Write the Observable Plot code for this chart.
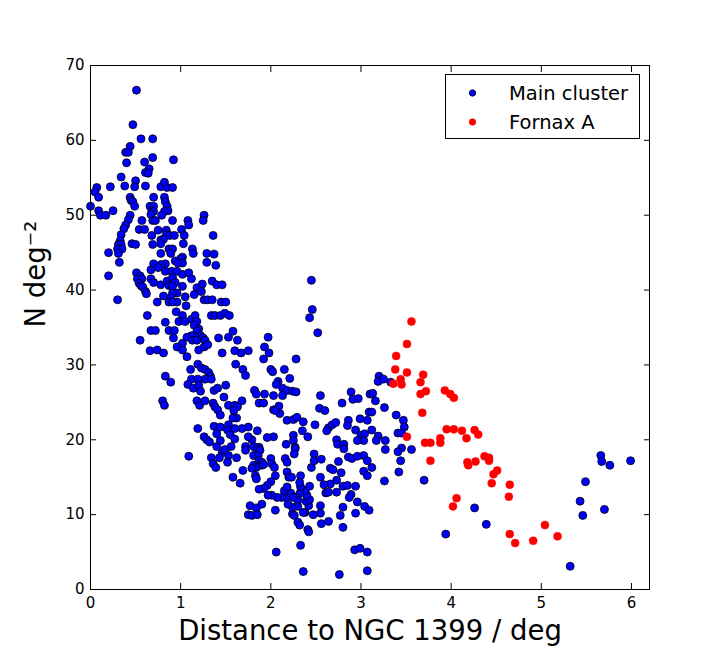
<!DOCTYPE html>
<html><head><meta charset="utf-8">
<script src="https://cdn.jsdelivr.net/npm/d3@7"></script>
<script src="https://cdn.jsdelivr.net/npm/@observablehq/plot@0.6"></script>
<style>body{margin:0;background:#fff} #chart{width:721px;height:656px}</style>
</head><body><div id="chart"></div>
<script>
const mainX = [0.51,0.47,0.56,0.69,0.44,0.39,0.42,0.40,0.60,0.69,0.92,0.65,0.61,0.64,0.34,0.50,0.07,0.05,0.09,0.22,0.38,0.49,0.61,0.78,0.85,0.91,0.82,0.70,0.44,0.45,0.47,0.49,0.82,0.83,0.85,0.86,0.82,0.66,0.70,0.68,0.70,0.00,0.09,0.11,0.17,0.25,0.44,0.42,0.39,0.37,0.34,0.33,0.31,0.34,0.30,0.35,0.31,0.20,0.57,0.67,0.69,0.72,0.79,0.91,0.54,0.60,0.75,0.84,0.84,0.88,0.93,1.01,1.08,1.09,1.04,1.26,1.25,1.36,0.68,0.78,0.81,0.69,0.78,0.46,0.50,1.03,1.13,1.14,1.29,1.37,0.78,0.87,0.91,0.89,1.02,1.00,
0.32,0.94,1.02,0.97,0.83,0.78,1.29,1.39,0.20,0.51,0.55,0.52,0.57,0.54,0.56,0.58,0.61,0.62,0.67,0.70,0.75,0.67,0.70,0.78,0.83,0.90,0.96,1.02,1.09,1.12,0.85,0.91,0.94,0.87,0.91,1.02,0.96,0.91,0.89,0.81,0.87,0.96,0.91,1.18,1.24,1.23,1.15,1.35,1.40,1.46,1.05,1.06,0.74,0.30,1.26,1.30,1.35,1.45,1.34,1.38,1.44,1.49,0.95,1.02,0.98,1.05,1.12,1.16,1.18,1.15,1.20,1.18,1.22,1.25,1.16,1.12,1.07,1.13,1.18,1.27,1.02,0.96,1.02,1.20,1.26,1.30,0.92,0.87,0.93,0.83,0.67,0.72,0.63,0.55,0.66,0.74,0.81,1.07,1.42,1.46,1.11,1.19,1.23,1.27,1.31,1.33,1.27,1.34,1.12,1.19,1.08,1.14,1.20,1.22,1.37,1.41,1.48,0.83,0.89,0.80,0.82,1.18,1.21,1.27,1.36,1.38,1.41,1.44,1.37,1.44,1.19,1.50,
1.50,1.54,1.58,1.53,1.63,1.97,1.93,1.98,1.75,1.67,1.60,2.28,
1.26,1.29,1.32,1.40,1.44,1.40,1.46,1.43,1.49,1.09,1.34,1.36,1.39,
2.46,2.43,2.52,2.45,1.92,1.61,1.69,1.72,2.00,2.02,2.15,2.21,2.08,2.06,2.13,2.18,2.24,2.28,1.82,1.84,1.93,2.03,2.13,1.53,1.60,1.63,1.68,1.59,1.62,1.58,1.87,1.92,2.03,2.09,2.10,2.05,2.18,2.25,2.29,2.36,2.49,2.55,2.54,2.60,2.79,2.89,2.91,2.97,2.86,2.85,2.99,3.09,3.07,3.10,2.64,2.68,2.72,2.62,2.94,3.00,3.04,3.03,2.96,2.73,2.74,2.81,2.41,2.35,2.25,2.25,2.17,2.27,2.03,1.96,1.85,1.75,1.79,1.75,1.68,1.60,1.53,1.52,1.55,1.60,1.72,1.81,1.87,1.56,
1.53,1.62,1.52,1.72,1.85,1.88,1.81,1.86,1.87,1.90,1.81,1.84,1.90,1.92,1.79,2.00,2.01,2.04,2.05,2.00,1.96,1.92,1.87,1.83,1.84,1.69,1.58,1.66,2.18,2.20,2.23,2.33,2.27,2.26,2.16,2.18,2.45,2.48,2.48,2.56,2.66,2.69,2.78,2.75,2.81,2.86,2.90,2.96,3.03,3.07,3.03,3.07,2.55,2.73,2.66,2.59,2.61,2.64,2.73,2.80,2.85,2.94,2.89,2.87,2.96,3.04,3.09,2.94,2.80,2.77,2.80,2.55,2.55,2.56,2.64,2.47,2.38,2.42,2.39,2.43,2.40,2.38,2.43,2.33,2.32,2.32,2.28,2.30,2.30,2.24,2.19,2.24,2.26,2.30,2.32,2.36,2.41,2.42,2.17,2.22,2.25,2.15,2.18,2.12,2.07,2.01,1.97,1.90,1.84,1.77,1.75,1.79,1.85,2.05,2.33,2.06,2.36,2.76,2.93,2.99,3.07,3.07,
3.20,3.19,3.25,3.33,3.13,3.16,3.26,3.12,3.39,3.47,3.48,3.41,3.45,3.12,3.19,3.27,3.17,3.27,3.45,3.56,
3.41,3.12,3.44,3.42,3.26,3.70,4.26,4.39,3.94,
5.66,5.67,5.76,5.99,5.49,5.43,5.46,5.70,5.32];
const mainY = [66.7,62.1,60.2,60.2,59.2,58.4,58.4,57.0,57.1,57.7,57.4,56.2,55.7,55.6,55.1,54.6,53.7,53.1,52.4,53.8,53.9,53.8,53.9,53.8,53.7,53.7,54.4,52.4,52.4,52.0,51.8,51.2,52.4,51.8,51.2,50.6,50.5,51.2,51.2,50.6,50.5,51.2,50.6,50.0,50.0,50.6,50.0,49.4,48.7,48.2,47.4,46.6,46.1,46.1,45.5,45.5,44.9,45.0,49.3,50.1,49.3,49.3,50.0,49.3,48.1,48.1,48.0,48.0,47.4,47.3,47.3,48.1,49.3,48.7,47.3,50.0,49.3,47.3,47.3,46.7,46.8,46.1,46.2,46.2,46.1,46.2,45.5,44.9,44.9,44.8,44.9,45.5,45.5,44.9,44.4,44.2,
43.7,43.9,43.6,43.6,43.5,43.4,43.7,43.3,41.9,42.3,41.9,41.5,41.5,40.9,40.6,40.4,39.8,39.5,42.7,43.5,43.0,41.5,41.0,40.7,42.5,42.5,42.5,42.1,42.3,41.5,41.2,41.7,41.0,40.6,40.5,40.5,39.6,39.6,39.0,39.2,38.4,38.4,38.4,40.3,40.8,39.8,39.4,41.2,40.7,40.7,39.1,37.9,38.4,38.7,38.7,38.7,38.7,38.4,36.6,36.6,36.6,36.9,37.1,36.6,35.8,35.8,36.1,36.6,35.8,35.3,34.8,34.5,33.9,33.6,33.8,33.9,33.7,33.3,33.3,33.3,32.9,32.4,32.0,32.0,32.4,32.7,33.6,34.6,34.6,35.7,34.6,34.6,36.6,33.3,31.9,32.0,31.6,31.1,33.6,31.6,29.4,30.1,29.6,29.4,29.0,28.5,28.1,28.1,28.1,28.1,27.4,26.9,27.3,26.5,26.6,26.9,25.7,28.5,27.7,25.2,24.6,25.2,24.6,25.2,24.9,24.4,24.0,23.3,21.8,21.7,21.5,27.3,
38.4,36.6,34.5,33.7,33.3,33.7,32.4,31.6,31.9,31.6,31.9,30.8,
20.4,20.0,19.7,20.8,19.9,19.1,18.3,17.6,18.7,17.8,17.6,16.8,16.3,
37.4,36.3,34.3,41.3,30.8,30.1,29.4,28.6,29.4,29.1,29.4,28.2,27.8,27.4,26.9,26.6,26.5,26.4,26.6,26.1,26.1,25.9,25.9,24.6,24.6,24.4,25.2,23.9,22.9,22.9,24.9,24.9,24.0,24.5,23.5,23.9,22.6,22.7,23.0,22.4,22.0,25.9,24.2,23.9,24.9,26.4,25.4,25.5,22.6,21.9,22.8,23.7,22.6,26.1,21.6,22.0,22.3,21.2,21.3,20.6,20.8,19.9,19.9,20.0,19.4,19.4,20.4,21.2,20.6,19.9,19.4,19.0,20.4,20.3,21.2,21.7,20.0,20.4,21.5,21.5,22.0,21.3,20.7,20.1,19.1,19.1,19.0,19.1,
17.9,17.6,17.0,18.6,18.8,18.6,17.9,17.9,17.2,17.0,16.6,16.3,16.6,16.7,16.2,17.5,16.8,16.3,15.2,14.4,13.9,13.5,13.4,15.2,14.8,15.9,15.0,14.2,15.7,15.0,15.0,15.2,18.8,18.1,17.5,17.0,16.3,18.1,17.2,17.4,16.2,16.0,15.6,17.1,18.8,17.7,17.5,17.8,17.9,17.2,15.8,15.2,15.0,14.6,14.1,14.0,12.9,13.0,13.0,13.8,13.9,13.8,12.7,12.3,11.7,11.1,10.6,10.2,11.0,9.9,8.3,11.2,10.2,8.8,9.1,10.0,10.3,11.2,11.8,12.0,12.6,13.2,13.8,13.7,14.3,12.8,12.3,11.9,11.1,11.0,11.4,10.1,9.9,9.0,8.6,10.3,8.0,7.7,12.3,12.9,12.3,13.2,13.7,12.3,12.3,12.6,12.6,11.4,10.9,11.2,10.0,9.9,10.0,10.6,5.9,5.0,2.4,2.0,5.3,5.5,5.0,2.5,
28.5,27.8,28.1,27.7,26.2,25.2,24.3,23.7,23.3,22.6,21.7,20.9,20.9,21.3,20.5,19.9,19.9,18.7,18.9,18.7,
18.4,16.3,17.2,15.7,14.5,14.6,10.9,8.7,7.4,
17.9,17.1,16.6,17.2,14.4,11.8,9.9,10.7,3.1];
const fornaxX = [3.56,3.51,3.39,3.38,3.51,3.44,3.45,3.36,3.69,3.66,3.66,3.72,3.93,3.99,4.03,3.68,3.51,3.95,4.03,4.12,4.17,4.26,4.30,3.71,3.77,3.88,3.88,3.77,4.18,4.19,4.27,4.37,4.42,4.42,4.51,4.47,4.45,4.65,4.64,4.06,4.02,4.65,4.71,4.91,5.04,5.18];
const fornaxY = [35.8,32.8,31.2,29.4,29.0,28.1,27.4,27.5,28.7,27.7,26.1,26.5,26.6,26.1,25.6,23.6,20.4,21.4,21.4,21.2,20.2,21.3,20.7,19.6,19.6,20.2,19.6,17.2,17.0,16.6,17.1,17.8,17.6,17.2,15.9,15.4,14.2,14.0,12.4,12.2,11.1,7.4,6.2,6.5,8.6,7.1];
const xTicks = [0,1,2,3,4,5,6];
const yTicks = [0,10,20,30,40,50,60,70];
const seriesNames = ["Main cluster","Fornax A"];
const seriesColors = ["#0000ff","#ff0000"];
const xLabel = "Distance to NGC 1399 / deg";
const yLabel = "N deg\u207B\u00B2";

const main = mainX.map((x,i)=>({x, y: mainY[i]}));
const fornax = fornaxX.map((x,i)=>({x, y: fornaxY[i]}));

const chart = Plot.plot({
  width: 721, height: 656,
  marginLeft: 90, marginRight: 72, marginTop: 65, marginBottom: 67,
  style: {fontFamily: "DejaVu Sans", background: "white", color: "black", overflow: "visible"},
  x: {domain: [0, 6.2]},
  y: {domain: [0, 70]},
  marks: [
    Plot.dot(main, {x:"x", y:"y", r:4, fill:seriesColors[0], stroke:"black", strokeWidth:0.8}),
    Plot.dot(fornax, {x:"x", y:"y", r:4, fill:seriesColors[1], stroke:seriesColors[1], strokeWidth:0.5}),
    Plot.frame({stroke:"black", strokeWidth:1}),
    Plot.axisX(xTicks, {anchor:"bottom", tickSize:-6, tickPadding:14, fontSize:15, label:null}),
    Plot.axisX(xTicks, {anchor:"top", tickSize:-6, tickFormat:()=>"", label:null}),
    Plot.axisY(yTicks, {anchor:"left", tickSize:-6, tickPadding:12, fontSize:15, label:null}),
    Plot.axisY(yTicks, {anchor:"right", tickSize:-6, tickFormat:()=>"", label:null}),
    Plot.text([xLabel], {text:d=>d, frameAnchor:"bottom", dy:42, fontSize:27.5, lineAnchor:"middle"}),
    Plot.text([yLabel], {text:d=>d, frameAnchor:"left", dx:-54, rotate:-90, fontSize:27.5, lineAnchor:"middle"})
  ]
});
document.getElementById("chart").appendChild(chart);

// legend
const svg = d3.select(chart);
const lg = svg.append("g").attr("font-family","DejaVu Sans").attr("font-size",19.5).attr("text-anchor","start");
lg.append("rect").attr("x",445.5).attr("y",74.5).attr("width",194).attr("height",64)
  .attr("fill","white").attr("stroke","black");
seriesNames.forEach((name,i)=>{
  const cy = 93 + i*29;
  lg.append("circle").attr("cx",472.5).attr("cy",cy).attr("r",3.2)
    .attr("fill",seriesColors[i]).attr("stroke", i===0 ? "black" : seriesColors[i]).attr("stroke-width",0.8);
  lg.append("text").attr("x",509).attr("y",cy+6.5).attr("text-anchor","start").attr("fill","black").text(name);
});
</script>
</body></html>
